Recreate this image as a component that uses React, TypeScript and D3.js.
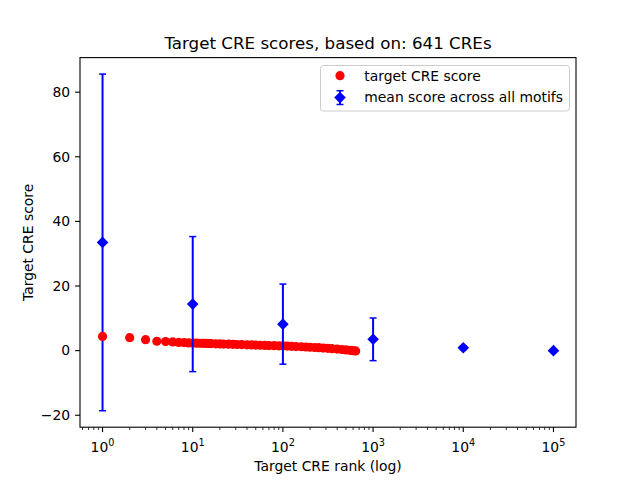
import { useEffect, useRef } from "react";
import * as d3 from "d3";

// red points: rank and score of target CREs
const creRanks = [
  1, 2, 3, 4, 5, 6, 7, 8, 9, 10, 11, 12, 13, 14, 15, 16, 18, 20, 22, 25, 28,
  31, 35, 40, 45, 50, 56, 63, 70, 80, 90, 100, 112, 125, 140, 160, 180, 200,
  225, 250, 280, 315, 350, 400, 450, 500, 560, 600, 641,
];
const creScores = [
  4.4, 4.0, 3.4, 2.9, 2.8, 2.7, 2.55, 2.5, 2.4, 2.35, 2.3, 2.28, 2.25, 2.22,
  2.2, 2.17, 2.12, 2.08, 2.04, 2.0, 1.95, 1.9, 1.86, 1.8, 1.76, 1.72, 1.67,
  1.62, 1.58, 1.53, 1.49, 1.45, 1.4, 1.33, 1.27, 1.2, 1.13, 1.05, 0.97, 0.9,
  0.8, 0.7, 0.6, 0.47, 0.35, 0.22, 0.08, 0.0, -0.1,
];

// blue diamonds: mean score across all motifs with error
const motifRanks = [1, 10, 100, 1000, 10000, 100000];
const motifMeans = [33.5, 14.4, 8.2, 3.5, 0.9, 0.0];
const motifErrors = [52.1, 20.9, 12.4, 6.6, 0.6, 0.0];

const xTickExps = [0, 1, 2, 3, 4, 5];
const yTicks = [-20, 0, 20, 40, 60, 80];

const W = 640;
const H = 480;
const M = { left: 80, right: 576, top: 57.6, bottom: 427.2 };
const FONT = "DejaVu Sans, sans-serif";
const DOT_R = 4.6;

export default function App() {
  const svgRef = useRef<SVGSVGElement>(null);

  useEffect(() => {
    if (!svgRef.current) return;
    const svg = d3.select(svgRef.current);
    svg.selectAll("*").remove();

    const x = d3.scaleLog().domain([Math.pow(10, -0.25), Math.pow(10, 5.25)]).range([M.left, M.right]);
    const y = d3.scaleLinear().domain([-23.7, 90.7]).range([M.bottom, M.top]);

    svg.append("rect").attr("width", W).attr("height", H).attr("fill", "white");

    const plot = svg.append("g");

    const drawErr = (i: number) => {
      const cx = x(motifRanks[i]);
      const lo = y(motifMeans[i] - motifErrors[i]);
      const hi = y(motifMeans[i] + motifErrors[i]);
      const g = plot.append("g").attr("stroke", "#0000ff").attr("stroke-width", 2);
      if (motifErrors[i] > 0) {
        g.append("line").attr("x1", cx).attr("x2", cx).attr("y1", lo).attr("y2", hi);
        [lo, hi].forEach((yy) => {
          g.append("line").attr("x1", cx - 3.5).attr("x2", cx + 3.5).attr("y1", yy).attr("y2", yy).attr("stroke-width", 1.5);
        });
      }
    };
    const drawDiamond = (i: number) => {
      const cx = x(motifRanks[i]);
      const cy = y(motifMeans[i]);
      const r = 5.8;
      plot.append("path")
        .attr("d", `M${cx},${cy - r}L${cx + r},${cy}L${cx},${cy + r}L${cx - r},${cy}Z`)
        .attr("fill", "#0000ff");
    };

    // first error bar sits under the red points, the rest on top
    drawErr(0);

    plot.selectAll("circle.cre")
      .data(creRanks)
      .enter()
      .append("circle")
      .attr("class", "cre")
      .attr("cx", (d) => x(d))
      .attr("cy", (_, i) => y(creScores[i]))
      .attr("r", DOT_R)
      .attr("fill", "#ff0000");

    motifRanks.forEach((_, i) => {
      if (i > 0) drawErr(i);
    });
    motifRanks.forEach((_, i) => drawDiamond(i));

    // spines
    svg.append("rect")
      .attr("x", M.left).attr("y", M.top)
      .attr("width", M.right - M.left).attr("height", M.bottom - M.top)
      .attr("fill", "none").attr("stroke", "black").attr("stroke-width", 1.1);

    // x ticks (major + minor)
    const ax = svg.append("g").attr("font-family", FONT).attr("font-size", 13.9);
    const [d0, d1] = x.domain();
    for (let e = -1; e <= 6; e++) {
      for (let k = 2; k <= 9; k++) {
        const v = k * Math.pow(10, e);
        if (v < d0 || v > d1) continue;
        ax.append("line").attr("x1", x(v)).attr("x2", x(v))
          .attr("y1", M.bottom).attr("y2", M.bottom + 2.8)
          .attr("stroke", "black").attr("stroke-width", 0.8);
      }
    }
    xTickExps.forEach((e) => {
      const px = x(Math.pow(10, e));
      ax.append("line").attr("x1", px).attr("x2", px)
        .attr("y1", M.bottom).attr("y2", M.bottom + 4.9)
        .attr("stroke", "black").attr("stroke-width", 1.1);
      const t = ax.append("text").attr("x", px).attr("y", 451.5).attr("text-anchor", "middle");
      t.append("tspan").text("10");
      t.append("tspan").attr("font-size", 9.7).attr("dy", -6).text(String(e));
    });

    // y ticks
    yTicks.forEach((v) => {
      const py = y(v);
      ax.append("line").attr("x1", M.left - 4.9).attr("x2", M.left)
        .attr("y1", py).attr("y2", py)
        .attr("stroke", "black").attr("stroke-width", 1.1);
      ax.append("text").attr("x", M.left - 9.8).attr("y", py).attr("dy", "0.35em")
        .attr("text-anchor", "end").text(v < 0 ? `\u2212${Math.abs(v)}` : String(v));
    });

    // labels
    svg.append("text").attr("x", (M.left + M.right) / 2).attr("y", 49)
      .attr("text-anchor", "middle").attr("font-family", FONT).attr("font-size", 16.7)
      .text("Target CRE scores, based on: 641 CREs");
    svg.append("text").attr("x", (M.left + M.right) / 2).attr("y", 470.5)
      .attr("text-anchor", "middle").attr("font-family", FONT).attr("font-size", 13.9)
      .text("Target CRE rank (log)");
    svg.append("text")
      .attr("transform", `translate(32.5,${(M.top + M.bottom) / 2}) rotate(-90)`)
      .attr("text-anchor", "middle").attr("font-family", FONT).attr("font-size", 13.9)
      .text("Target CRE score");

    // legend
    const lg = svg.append("g").attr("font-family", FONT).attr("font-size", 13.9);
    lg.append("rect").attr("x", 320.5).attr("y", 65.5).attr("width", 249).attr("height", 45.5)
      .attr("rx", 3).attr("fill", "white").attr("fill-opacity", 0.8)
      .attr("stroke", "#cccccc").attr("stroke-width", 1);
    lg.append("circle").attr("cx", 340).attr("cy", 75.7).attr("r", DOT_R).attr("fill", "#ff0000");
    lg.append("text").attr("x", 364.3).attr("y", 75.7).attr("dy", "0.35em").text("target CRE score");
    const lb = lg.append("g").attr("stroke", "#0000ff");
    lb.append("line").attr("x1", 340).attr("x2", 340).attr("y1", 90.7).attr("y2", 104.5).attr("stroke-width", 2);
    [90.7, 104.5].forEach((yy) => {
      lb.append("line").attr("x1", 336.5).attr("x2", 343.5).attr("y1", yy).attr("y2", yy).attr("stroke-width", 1.5);
    });
    const r = 5.8;
    lg.append("path")
      .attr("d", `M340,${97.6 - r}L${340 + r},97.6L340,${97.6 + r}L${340 - r},97.6Z`)
      .attr("fill", "#0000ff");
    lg.append("text").attr("x", 364.3).attr("y", 97.6).attr("dy", "0.35em").text("mean score across all motifs");
  }, []);

  return (
    <svg
      ref={svgRef}
      width={W}
      height={H}
      style={{ position: "absolute", left: 0, top: 0, display: "block" }}
    />
  );
}
